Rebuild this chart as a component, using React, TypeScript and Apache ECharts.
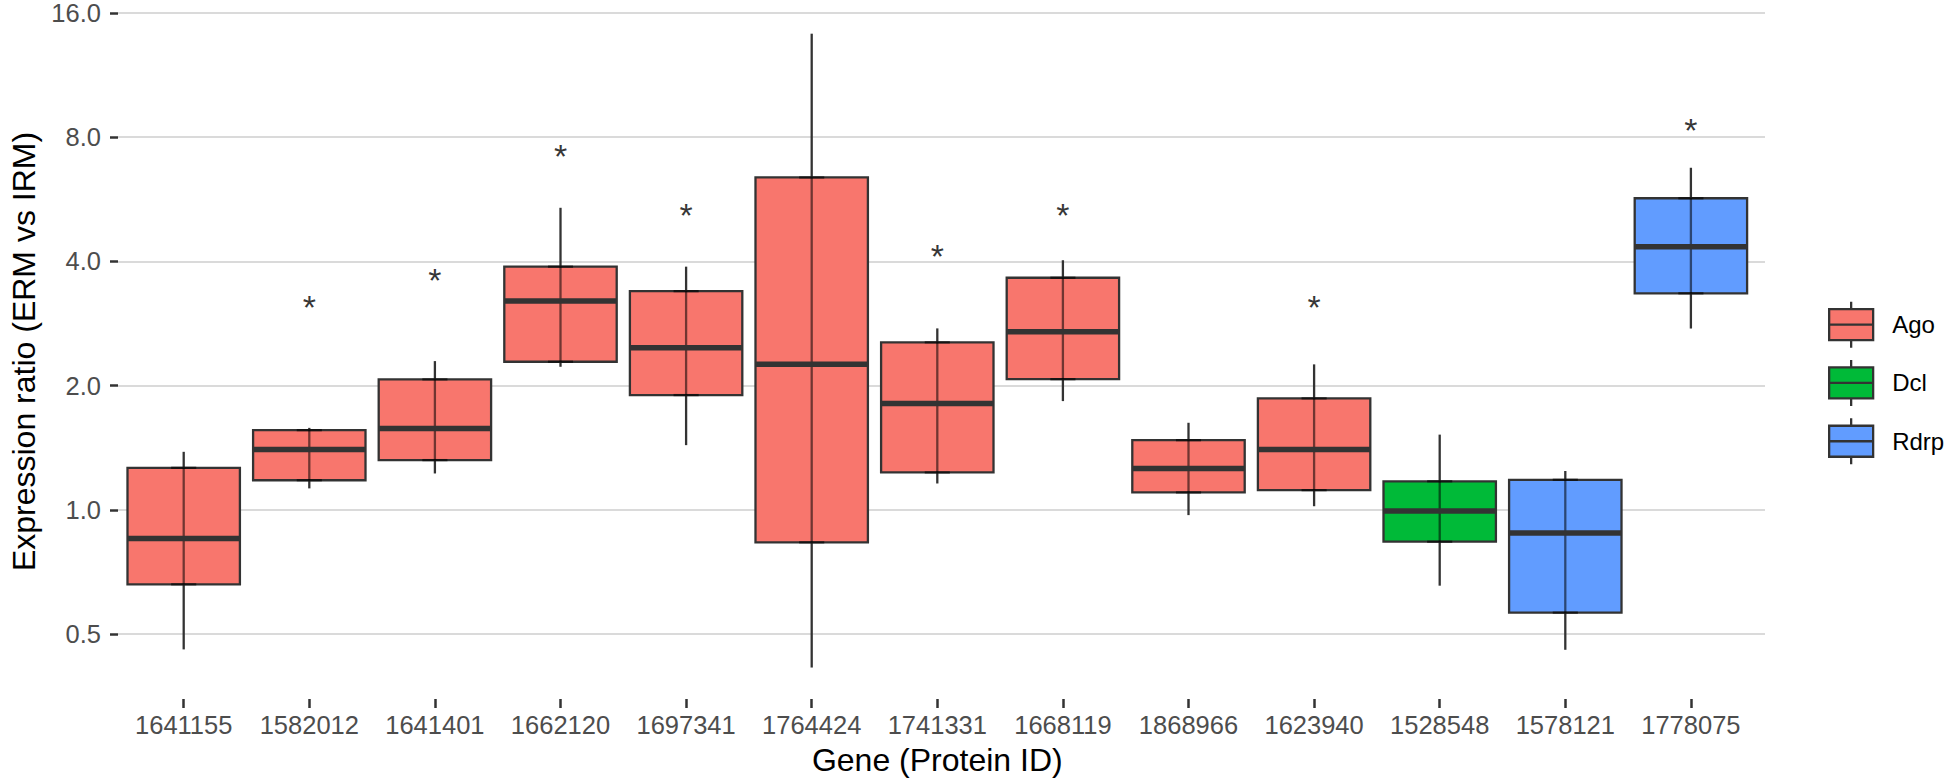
import React, { useEffect, useRef } from 'react';
import * as echarts from 'echarts';

// ---- data ----
const genes = ['1641155', '1582012', '1641401', '1662120', '1697341', '1764424', '1741331', '1668119', '1868966', '1623940', '1528548', '1578121', '1778075'];
const families = ['Ago', 'Ago', 'Ago', 'Ago', 'Ago', 'Ago', 'Ago', 'Ago', 'Ago', 'Ago', 'Dcl', 'Rdrp', 'Rdrp'];
const lows = [0.459, 1.123, 1.22, 2.207, 1.428, 0.415, 1.154, 1.824, 0.968, 1.017, 0.654, 0.458, 2.73];
const q1s = [0.659, 1.175, 1.314, 2.27, 1.886, 0.832, 1.227, 2.06, 1.098, 1.112, 0.835, 0.563, 3.32];
const medians = [0.85, 1.394, 1.567, 3.18, 2.452, 2.237, 1.8, 2.68, 1.254, 1.394, 0.99, 0.877, 4.3];
const q3s = [1.259, 1.552, 2.058, 3.85, 3.36, 6.32, 2.528, 3.62, 1.468, 1.852, 1.168, 1.178, 5.63];
const highs = [1.376, 1.572, 2.278, 5.34, 3.85, 14.05, 2.732, 3.99, 1.617, 2.237, 1.514, 1.237, 6.67];
const asterisks: (number | null)[] = [null, 3.11, 3.62, 7.22, 5.18, null, 4.14, 5.18, null, 3.11, null, null, 8.3];

const familyNames = ['Ago', 'Dcl', 'Rdrp'];
const familyColors = ['#F8766D', '#00BA38', '#619CFF'];

const FONT = "'Liberation Sans', Arial, Helvetica, sans-serif";
const DARK = '#333333';

const makeRender = (color: string) => (params: any, api: any) => {
  const i = api.value(0);
  const cx = api.coord([i, 1])[0];
  const band = Math.abs(api.coord([1, 1])[0] - api.coord([0, 1])[0]);
  const yLow = api.coord([i, api.value(1)])[1];
  const yQ1 = api.coord([i, api.value(2)])[1];
  const yMed = api.coord([i, api.value(3)])[1];
  const yQ3 = api.coord([i, api.value(4)])[1];
  const yHigh = api.coord([i, api.value(5)])[1];
  const w = band * 0.895;
  const cap = band * 0.1;
  const lw = 2.3;
  return {
    type: 'group',
    children: [
      { type: 'line', shape: { x1: cx, y1: yHigh, x2: cx, y2: yQ3 }, style: { stroke: DARK, lineWidth: lw } },
      { type: 'line', shape: { x1: cx, y1: yQ1, x2: cx, y2: yLow }, style: { stroke: DARK, lineWidth: lw } },
      { type: 'rect', shape: { x: cx - w / 2, y: yQ3, width: w, height: yQ1 - yQ3 }, style: { fill: color, stroke: DARK, lineWidth: lw } },
      { type: 'line', shape: { x1: cx, y1: yQ3, x2: cx, y2: yQ1 }, style: { stroke: 'rgba(0,0,0,0.55)', lineWidth: lw } },
      { type: 'line', shape: { x1: cx - cap, y1: yQ3, x2: cx + cap, y2: yQ3 }, style: { stroke: 'rgba(0,0,0,0.6)', lineWidth: lw } },
      { type: 'line', shape: { x1: cx - cap, y1: yQ1, x2: cx + cap, y2: yQ1 }, style: { stroke: 'rgba(0,0,0,0.6)', lineWidth: lw } },
      { type: 'line', shape: { x1: cx - w / 2, y1: yMed, x2: cx + w / 2, y2: yMed }, style: { stroke: DARK, lineWidth: 5.5 } },
    ],
  };
};

const legendIcon = 'path://M0,7.5L44,7.5L44,38.5L0,38.5Z M0,23L44,23 M22,0L22,7.5 M22,38.5L22,46';

export default function App() {
  const ref = useRef<HTMLDivElement>(null);
  useEffect(() => {
    const chart = echarts.init(ref.current!, null, { renderer: 'svg' });

    const boxSeries = familyNames.map((fam, k) => ({
      name: fam,
      type: 'custom',
      xAxisIndex: 1,
      yAxisIndex: 1,
      itemStyle: { color: familyColors[k] },
      encode: { x: 0, y: [1, 2, 3, 4, 5] },
      renderItem: makeRender(familyColors[k]),
      data: genes
        .map((g, i) => ({ i, fam: families[i] }))
        .filter((d) => d.fam === fam)
        .map((d) => [d.i, lows[d.i], q1s[d.i], medians[d.i], q3s[d.i], highs[d.i]]),
    }));

    const starData = asterisks
      .map((v, i) => (v == null ? null : [i, v]))
      .filter((d) => d !== null);

    const option: any = {
      animation: false,
      backgroundColor: '#ffffff',
      textStyle: { fontFamily: FONT },
      grid: [
        { left: 108, right: 181, top: 10.3, bottom: 148 },
        { left: 120.9, right: 192.3, top: 10.3, bottom: 148 },
      ],
      xAxis: [
        { gridIndex: 0, type: 'category', data: genes, show: false },
        {
          gridIndex: 1,
          type: 'category',
          data: genes,
          offset: 65,
          axisLine: { show: false },
          axisTick: { show: true, alignWithLabel: true, length: 9, lineStyle: { color: DARK, width: 2.5 } },
          axisLabel: { margin: 13, fontSize: 25.5, color: '#4D4D4D', fontFamily: FONT, interval: 0 },
          splitLine: { show: false },
          name: 'Gene (Protein ID)',
          nameLocation: 'middle',
          nameGap: 45,
          nameTextStyle: { fontSize: 32, color: '#000000', fontFamily: FONT },
        },
      ],
      yAxis: [
        {
          gridIndex: 0,
          type: 'log',
          logBase: 2,
          min: 0.5,
          max: 16,
          splitNumber: 5,
          axisLine: { show: false },
          axisTick: { show: true, length: 8, lineStyle: { color: DARK, width: 2.5 } },
          axisLabel: {
            margin: 17,
            fontSize: 25.5,
            color: '#4D4D4D',
            fontFamily: FONT,
            formatter: (v: number) => v.toFixed(1),
          },
          splitLine: { show: true, lineStyle: { color: '#DADADA', width: 2 } },
          name: 'Expression ratio (ERM vs IRM)',
          nameLocation: 'middle',
          nameGap: 78,
          nameTextStyle: { fontSize: 32, color: '#000000', fontFamily: FONT, padding: [0, 56, 0, 0] },
        },
        { gridIndex: 1, type: 'log', logBase: 2, min: 0.5, max: 16, show: false },
      ],
      legend: {
        orient: 'vertical',
        left: 1823,
        top: 295.5,
        itemWidth: 44,
        itemHeight: 46,
        itemGap: 10,
        selectedMode: false,
        textStyle: { fontSize: 24, color: '#000000', fontFamily: FONT, padding: [0, 0, 0, 14] },
        data: familyNames.map((n, k) => ({
          name: n,
          icon: legendIcon,
          itemStyle: { color: familyColors[k], borderColor: DARK, borderWidth: 2.3 },
        })),
      },
      series: [
        ...boxSeries,
        {
          name: 'significance',
          type: 'scatter',
          xAxisIndex: 1,
          yAxisIndex: 1,
          symbol: 'circle',
          symbolSize: 1,
          itemStyle: { color: 'rgba(0,0,0,0)' },
          label: {
            show: true,
            formatter: '*',
            position: 'inside',
            fontSize: 34,
            color: '#000000',
            fontFamily: FONT,
            offset: [0, 2],
          },
          data: starData,
        },
      ],
    };

    chart.setOption(option);
    return () => chart.dispose();
  }, []);

  return (
    <div
      ref={ref}
      style={{ position: 'fixed', left: 0, top: 0, width: 1946, height: 782, background: '#ffffff' }}
    />
  );
}
